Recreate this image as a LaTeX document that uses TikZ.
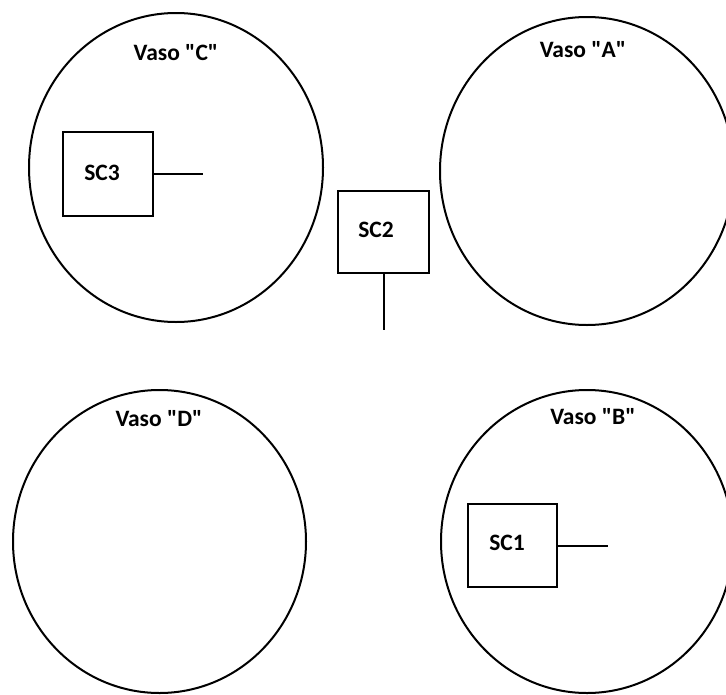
\documentclass[tikz,border=0pt]{standalone}
\usepackage{fontspec}
\setmainfont{Carlito}[Ligatures=TeXOff]
\usetikzlibrary{shapes.geometric}
\begin{document}
\begin{tikzpicture}[x=1pt,y=-1pt,
  vessel/.style={draw, ellipse, line width=2pt, inner sep=0pt},
  sbox/.style={draw, rectangle, line width=2pt, inner sep=0pt},
  lbl/.style={font=\fontsize{23.5}{28}\selectfont\bfseries, inner sep=0pt, anchor=base},
  wire/.style={line width=2pt}]
\fill[white] (0,0) rectangle (726,694);
\useasboundingbox (0,0) rectangle (726,694);
\clip (0,0) rectangle (726,694);
% vessels
\node[vessel, minimum width=294, minimum height=309] (C) at (176,167.5) {};
\node[vessel, minimum width=294, minimum height=308] (A) at (587,171) {};
\node[vessel, minimum width=293, minimum height=303] (D) at (159.5,541.5) {};
\node[vessel, minimum width=292, minimum height=303] (B) at (587,541.5) {};
% vessel labels
\node[lbl] (lC) at (176,60) {Vaso "C"};
\node[lbl] (lA) at (583,57) {Vaso "A"};
\node[lbl] (lD) at (159,426) {Vaso "D"};
\node[lbl] (lB) at (593,424) {Vaso "B"};
% sensor boxes
\node[sbox, minimum width=90, minimum height=84] (sc3) at (108,174) {};
\node[sbox, minimum width=91, minimum height=82] (sc2) at (383.5,232) {};
\node[sbox, minimum width=89, minimum height=83] (sc1) at (512.5,545.5) {};
\node[lbl] (t3) at (102,180) {SC3};
\node[lbl] (t2) at (376,237) {SC2};
\node[lbl] (t1) at (507,550) {SC1};
% wires
\coordinate (e3) at (203,174);
\coordinate (e2) at (383.5,330);
\coordinate (e1) at (608,545.5);
\draw[wire] (sc3.east) -- (e3);
\draw[wire] (sc2.south) -- (e2);
\draw[wire] (sc1.east) -- (e1);
\end{tikzpicture}
\end{document}
